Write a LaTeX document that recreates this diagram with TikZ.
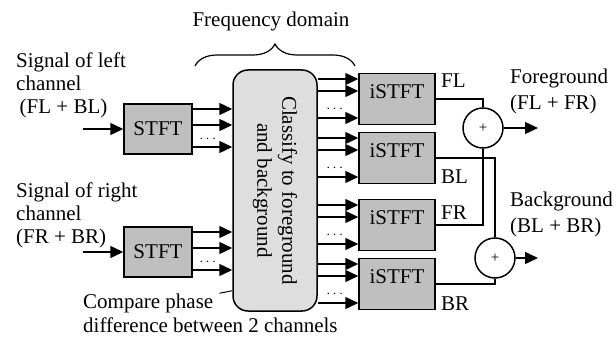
\documentclass[tikz,border=0pt]{standalone}
\usepackage{fontspec}
\setmainfont{Liberation Serif}
\usetikzlibrary{arrows.meta, calc, positioning, decorations.pathreplacing}

\begin{document}
\begin{tikzpicture}[x=1pt, y=-1pt,
    every node/.style={font=\fontsize{21}{23}\selectfont},
    blk/.style={draw, line width=1.5pt, fill=black!25, minimum width=68pt, minimum height=50pt, inner sep=0pt},
    iblk/.style={blk, minimum width=76pt, minimum height=51pt, text height=25pt, text depth=26pt},
    sumnode/.style={draw, circle, line width=1.5pt, minimum size=40pt, inner sep=0pt, font=\fontsize{15}{15}\selectfont},
    sig/.style={line width=1.5pt, -{Triangle[length=13pt, width=12pt]}},
    wire/.style={line width=1.5pt},
    txt/.style={align=left, inner sep=0pt},
    dots/.style={inner sep=0pt, font=\fontsize{14}{14}\selectfont}]
    \useasboundingbox (0,0) rectangle (616,337);

    \coordinate (inL) at (83,129);
    \coordinate (inR) at (83,252);
    \coordinate (out1) at (538,128);
    \coordinate (out2) at (538,258);

    \node[blk] (stftL) at (158,129) {STFT};
    \node[blk] (stftR) at (158,252) {STFT};
    \node[draw, line width=1.5pt, rounded corners=15pt, fill=black!13,
      minimum width=84pt, minimum height=241pt] (cls) at (275,190.5) {};
    \node[rotate=-90, align=center, font=\fontsize{21}{25}\selectfont] (clstxt) at (cls.center) {Classify to foreground\\and background};

    \foreach \n/\y in {1/99, 2/158, 3/225, 4/284}
      \node[iblk] (istft\n) at (397,\y) {iSTFT};

    \node[sumnode] (sum1) at (483,128) {+};
    \node[sumnode] (sum2) at (495,258) {+};

    % inputs and STFT outputs
    \draw[sig] (inL) -- (stftL.west);
    \draw[sig] (inR) -- (stftR.west);
    \foreach \s in {stftL, stftR} {
      \foreach \d in {-20,-4,18}
        \draw[sig] ($(\s.east)+(0,\d)$) coordinate (p) -- (p -| cls.west);
      \node[dots] at ($(\s.east)+(15,10)$) {$\cdots$};
    }

    % classifier outputs
    \foreach \n in {1,...,4} {
      \foreach \d in {-20,-8,19}
        \draw[sig] (cls.east |- istft\n.center) ++(0,\d) coordinate (p) -- (p -| istft\n.west);
      \node[dots] at ($(cls.east |- istft\n.center)+(17,10)$) {$\cdots$};
    }

    % adders
    \draw[wire] (istft1.east) -| (sum1.north);
    \draw[wire] (istft2.east) -| (sum2.north);
    \draw[wire] (istft3.east) -| (sum1.south);
    \draw[wire] (istft4.east) -| (sum2.south);
    \draw[sig] (sum1.east) -- (out1);
    \draw[sig] (sum2.east) -- (out2);

    \node[txt, anchor=west] (fl) at (441,81) {FL};
    \node[txt, anchor=west] (bl) at (441,177) {BL};
    \node[txt, anchor=west] (fr) at (441,213) {FR};
    \node[txt, anchor=west] (br) at (441,304) {BR};

    \node[txt, anchor=north west] (fg) at (510,69) {Foreground\\[3pt](FL + FR)};
    \node[txt, anchor=north west] (bg) at (510,192) {Background\\[3pt](BL + BR)};

    \node[txt, anchor=north west] (sigL) at (16,52.5) {Signal of left\\channel\\\,(FL + BL)};
    \node[txt, anchor=north west] (sigR) at (16,182.5) {Signal of right\\channel\\(FR + BR)};

    \node[anchor=base, inner sep=0pt] (freq) at (271,27) {Frequency domain};
    \draw[decorate, decoration={brace, amplitude=22pt}, line width=1.2pt] (195,66) -- (355,66);

    \node[anchor=base west, inner xsep=6pt, inner ysep=0pt] (cmp1) at (77,308) {Compare phase};
    \node[anchor=base west, inner sep=0pt] (cmp2) at (83,332) {difference between 2 channels};
    \coordinate (cmpend) at ($(cls.south west)+(0,-21)$);
    \draw[line width=1pt] (cmp1.north east) -- (cmpend);
  \end{tikzpicture}
\end{document}
